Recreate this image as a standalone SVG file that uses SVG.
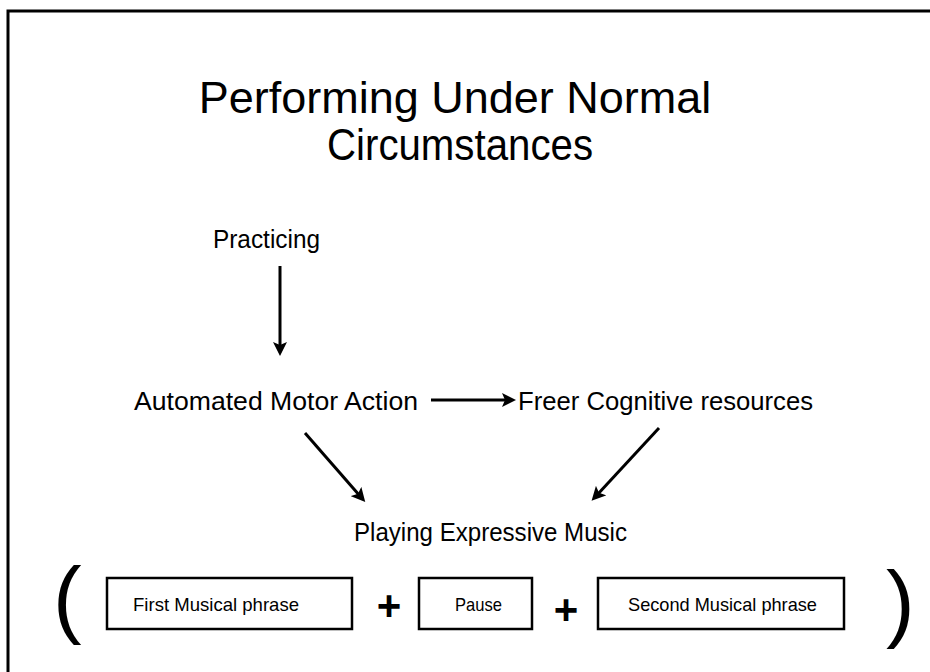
<svg xmlns="http://www.w3.org/2000/svg" width="930" height="672" viewBox="0 0 930 672">
  <defs>
    <marker id="head" viewBox="0 0 14 14" markerWidth="14" markerHeight="14" refX="6" refY="7" orient="auto" markerUnits="userSpaceOnUse">
      <path d="M0,0 L14,7 L0,14 L3,7 z" fill="#000"/>
    </marker>
    <style>
      text { font-family: "Liberation Sans", Arial, sans-serif; fill: #000; }
      .title { font-size: 45px; text-anchor: middle; }
      .label { font-size: 26px; }
      .boxlabel { font-size: 18.5px; }
      .box { fill: #fff; stroke: #000; stroke-width: 2.5; }
      .conn line { stroke: #000; stroke-width: 3; marker-end: url(#head); }
      .op { font-size: 42px; font-weight: bold; text-anchor: middle; }
      .paren { font-size: 86px; }
    </style>
  </defs>

  <rect width="930" height="672" fill="#fff"/>
  <!-- slide frame, running off the right and bottom edges -->
  <path d="M8,680 L8,11 L940,11" fill="none" stroke="#000" stroke-width="3"/>

  <g id="title">
    <text class="title" x="455" y="113">Performing Under Normal</text>
    <text class="title" x="460" y="160" textLength="266" lengthAdjust="spacingAndGlyphs">Circumstances</text>
  </g>

  <g id="practicing">
    <text class="label" x="213" y="248" textLength="107" lengthAdjust="spacingAndGlyphs">Practicing</text>
  </g>
  <g id="automated">
    <text class="label" x="134" y="410" textLength="284" lengthAdjust="spacingAndGlyphs">Automated Motor Action</text>
  </g>
  <g id="freer">
    <text class="label" x="518" y="410" textLength="295" lengthAdjust="spacingAndGlyphs">Freer Cognitive resources</text>
  </g>
  <g id="playing">
    <text class="label" x="354" y="541" textLength="273" lengthAdjust="spacingAndGlyphs">Playing Expressive Music</text>
  </g>

  <g id="connectors" class="conn">
    <line x1="280" y1="266" x2="280" y2="348"/>
    <line x1="431" y1="400" x2="508" y2="400"/>
    <line x1="305" y1="433" x2="360" y2="496"/>
    <line x1="659" y1="428" x2="597" y2="495"/>
  </g>

  <g id="phrase-group">
    <text class="paren" x="53" y="627">(</text>
    <g id="first-phrase">
      <rect class="box" x="107" y="578" width="245" height="51"/>
      <text class="boxlabel" x="133" y="611" textLength="166" lengthAdjust="spacingAndGlyphs">First Musical phrase</text>
    </g>
    <text class="op" x="389" y="620">+</text>
    <g id="pause">
      <rect class="box" x="419" y="578" width="113" height="51"/>
      <text class="boxlabel" x="455" y="611" textLength="47" lengthAdjust="spacingAndGlyphs">Pause</text>
    </g>
    <text class="op" x="566" y="624">+</text>
    <g id="second-phrase">
      <rect class="box" x="598" y="578" width="246" height="51"/>
      <text class="boxlabel" x="628" y="611" textLength="189" lengthAdjust="spacingAndGlyphs">Second Musical phrase</text>
    </g>
    <text class="paren" x="886" y="631">)</text>
  </g>
</svg>
